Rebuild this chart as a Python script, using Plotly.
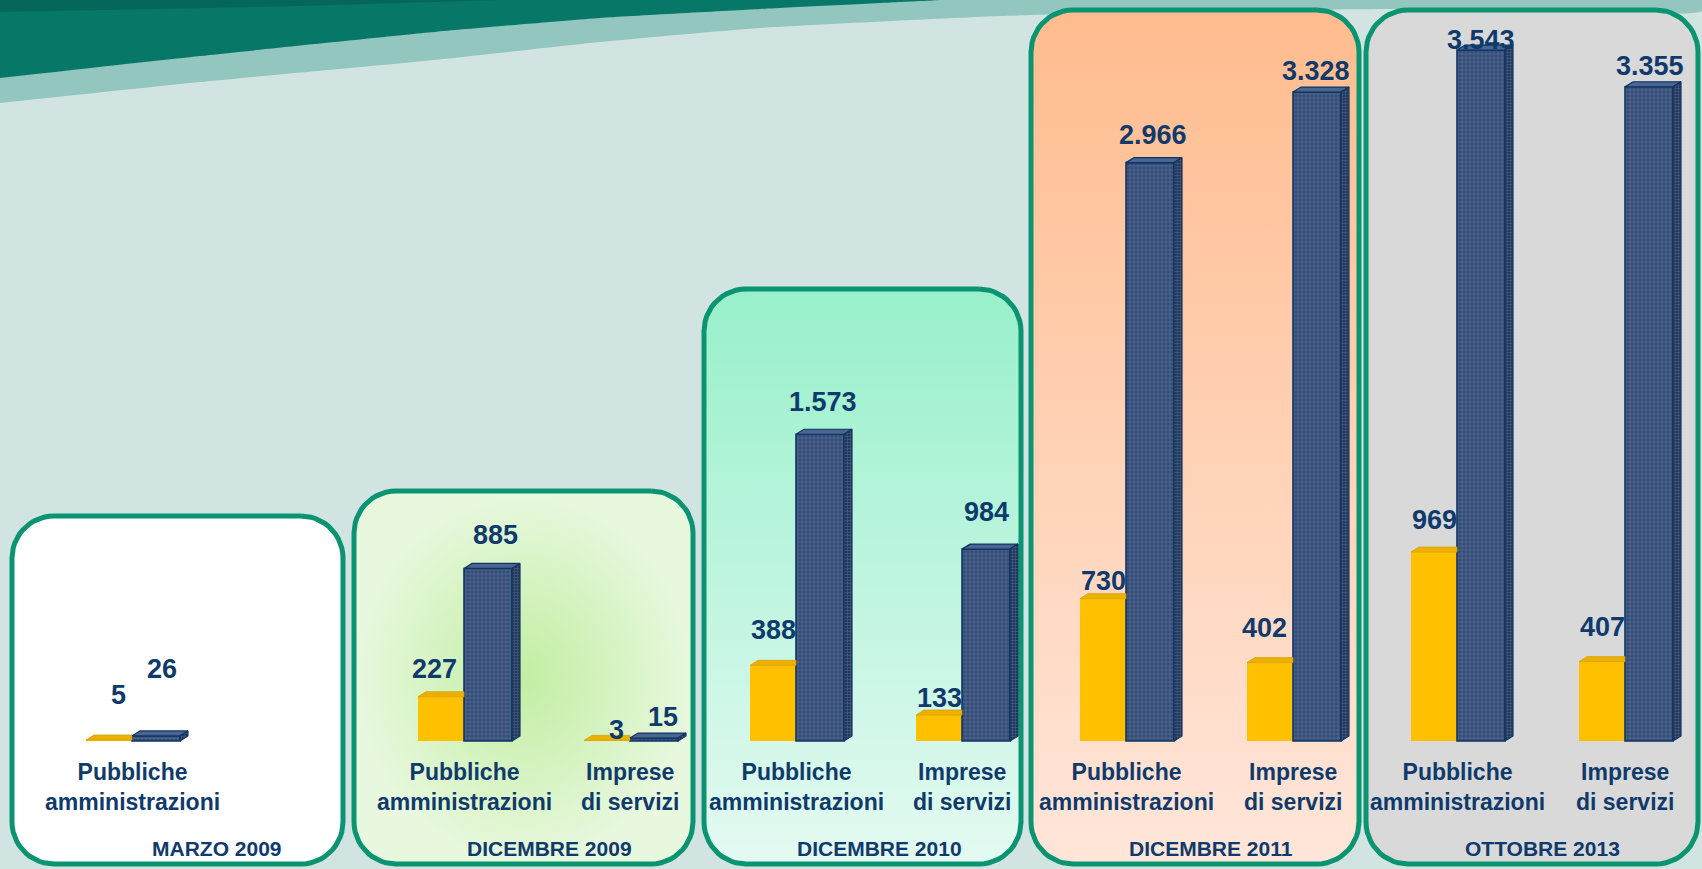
import plotly.graph_objects as go
import numpy as np

# ---------------- DATA ----------------
periods = ["MARZO 2009", "DICEMBRE 2009", "DICEMBRE 2010", "DICEMBRE 2011", "OTTOBRE 2013"]
categories = ["Pubbliche<br>amministrazioni", "Imprese<br>di servizi"]
group_period = [0, 1, 1, 2, 2, 3, 3, 4, 4]
group_category = [0, 0, 1, 0, 1, 0, 1, 0, 1]
yellow_values = [5, 227, 3, 388, 133, 730, 402, 969, 407]
navy_values = [26, 885, 15, 1573, 984, 2966, 3328, 3543, 3355]

# ---------------- LAYOUT CONSTANTS (pixels) ----------------
W, H = 1702, 869
BASE_PX = 741          # baseline from top
S = 0.195              # px per unit
group_x = [132, 464, 630, 796, 962, 1126, 1293, 1457, 1625]
YW, NW = 46, 48
DX, DY = 8, 5
DYU = DY / S
yellow_label_dy = [45, 28, 10, 35, 17, 18, 35, 32, 35]
yellow_label_dx = [9, -7, 9, 0, 0, 0, -6, 0, 0]
navy_label_dy = [67, 33, 21, 32, 37, 28, 21, 10, 21]
navy_label_dx = [6, 7, 9, 3, 0, 3, -1, 0, 1]
title_x = [217, 549, 879, 1211, 1542]
title_y = 848
cat_y = 787
panel_x0 = [12, 354, 704, 1031, 1366]
panel_x1 = [343, 693, 1021, 1359, 1698]
panel_y0 = [516, 491, 289, 10, 10]
panel_y1 = 864
RAD = 42

TEXT = "#0f3a6b"
FONT = "Liberation Sans, Arial, sans-serif"
BORDER = "#0a9471"
BG = "#d2e4e2"

def py(p):
    return H - p

def rrect(x0, x1, y0, y1, r, n=14):
    xs, ys = [], []
    corners = [(x1 - r, y0 + r, -90, 0), (x1 - r, y1 - r, 0, 90),
               (x0 + r, y1 - r, 90, 180), (x0 + r, y0 + r, 180, 270)]
    for cx, cy, a0, a1 in corners:
        for a in np.linspace(np.radians(a0), np.radians(a1), n):
            xs.append(cx + r * np.cos(a))
            ys.append(py(cy + r * np.sin(a)))
    xs.append(xs[0]); ys.append(ys[0])
    return xs, ys

fig = go.Figure()

# ---------------- background swoosh ----------------
light_top = [(0, 0), (1702, 0), (1702, 11), (1400, 9), (1200, 11), (1000, 16), (760, 28),
             (600, 42), (434, 60), (200, 82), (0, 103)]
fig.add_trace(go.Scatter(x=[p[0] for p in light_top], y=[py(p[1]) for p in light_top],
                         mode="lines", line=dict(width=0, shape="spline", smoothing=0.5),
                         fill="toself", fillcolor="#93c6bf", hoverinfo="skip"))
dark_top = [(0, 0), (940, 0), (900, 2), (760, 9), (600, 18), (434, 32), (200, 56), (0, 78)]
fig.add_trace(go.Scatter(x=[p[0] for p in dark_top], y=[py(p[1]) for p in dark_top],
                         mode="lines", line=dict(width=0, shape="spline", smoothing=0.5),
                         fill="toself", fillcolor="#077868", hoverinfo="skip"))
top_strip = [(0, 0), (500, 0), (300, 6), (0, 12)]
fig.add_trace(go.Scatter(x=[p[0] for p in top_strip], y=[py(p[1]) for p in top_strip],
                         mode="lines", line=dict(width=0), fill="toself",
                         fillcolor="#05665a", hoverinfo="skip"))

# ---------------- panels ----------------
panel_fill = [
    dict(kind="solid", color="#ffffff"),
    dict(kind="radial", c0="#c2eea2", c1="#e8f8de"),
    dict(kind="vertical", ctop="#98f0cb", cbot="#e4faf2"),
    dict(kind="vertical", ctop="#ffbc8e", cbot="#ffe6da"),
    dict(kind="solid", color="#d9d9d9"),
]
for i in range(5):
    xs, ys = rrect(panel_x0[i], panel_x1[i], panel_y0[i], panel_y1, RAD)
    pf = panel_fill[i]
    kw = dict(x=xs, y=ys, mode="lines", line=dict(color=BORDER, width=5),
              fill="toself", hoverinfo="skip")
    if pf["kind"] == "solid":
        kw["fillcolor"] = pf["color"]
    elif pf["kind"] == "radial":
        kw["fillgradient"] = dict(type="radial", colorscale=[[0, pf["c0"]], [1, pf["c1"]]])
    else:
        kw["fillgradient"] = dict(type="vertical",
                                  colorscale=[[0, pf["cbot"]], [1, pf["ctop"]]],
                                  start=py(panel_y1), stop=py(panel_y0[i]))
    fig.add_trace(go.Scatter(**kw))

# ---------------- bars ----------------
fig.add_trace(go.Bar(x=group_x, y=yellow_values, width=YW, offset=-YW,
                     marker=dict(color="#ffc000", line=dict(width=0)),
                     yaxis="y2", hoverinfo="skip"))
fig.add_trace(go.Bar(x=group_x, y=navy_values, width=NW, offset=0,
                     marker=dict(color="#344d76",
                                 pattern=dict(shape="+", fgcolor="#8094b4", size=4, solidity=0.3),
                                 line=dict(color="#0f3564", width=1.6)),
                     yaxis="y2", hoverinfo="skip"))

# 3D faces computed from values
for gx, yv, nv in zip(group_x, yellow_values, navy_values):
    x0 = gx - YW
    fig.add_trace(go.Scatter(x=[x0, x0 + DX, gx, gx, x0], y=[yv, yv + DYU, yv + DYU, yv, yv],
                             mode="lines", line=dict(color="#d9a000", width=0.8),
                             fill="toself", fillcolor="#ecb000", yaxis="y2", hoverinfo="skip"))
    x1 = gx + NW
    fig.add_trace(go.Scatter(x=[gx, gx + DX, x1 + DX, x1, gx], y=[nv, nv + DYU, nv + DYU, nv, nv],
                             mode="lines", line=dict(color="#0f3564", width=1.2),
                             fill="toself", fillcolor="#4a6590", yaxis="y2", hoverinfo="skip"))
    fig.add_trace(go.Scatter(x=[x1, x1 + DX, x1 + DX, x1, x1], y=[0, DYU, nv + DYU, nv, 0],
                             mode="lines", line=dict(color="#0f3564", width=1.2),
                             fill="toself", fillcolor="#23395b",
                             fillpattern=dict(shape="+", fgcolor="#6f84a6", bgcolor="#23395b",
                                              size=3, solidity=0.35),
                             yaxis="y2", hoverinfo="skip"))

# ---------------- annotations ----------------
ann = []
def fmt(v):
    return f"{v:,}".replace(",", ".")
for k, gx in enumerate(group_x):
    ann.append(dict(x=gx - YW / 2 + yellow_label_dx[k], y=yellow_values[k], xref="x", yref="y2",
                    yshift=yellow_label_dy[k], text=fmt(yellow_values[k]), showarrow=False,
                    xanchor="center", yanchor="middle",
                    font=dict(family=FONT, size=27, color=TEXT, weight="bold")))
    ann.append(dict(x=gx + NW / 2 + navy_label_dx[k], y=navy_values[k], xref="x", yref="y2",
                    yshift=navy_label_dy[k], text=fmt(navy_values[k]), showarrow=False,
                    xanchor="center", yanchor="middle",
                    font=dict(family=FONT, size=27, color=TEXT, weight="bold")))
    ann.append(dict(x=gx, y=py(cat_y), xref="x", yref="y", text=categories[group_category[k]],
                    showarrow=False, xanchor="center", yanchor="middle",
                    font=dict(family=FONT, size=23, color=TEXT, weight="bold")))
for i, t in enumerate(periods):
    ann.append(dict(x=title_x[i], y=py(title_y), xref="x", yref="y", text=t, showarrow=False,
                    xanchor="center", yanchor="middle",
                    font=dict(family=FONT, size=21, color=TEXT, weight="bold")))

fig.update_layout(
    width=W, height=H, margin=dict(l=0, r=0, t=0, b=0),
    paper_bgcolor=BG, plot_bgcolor=BG, showlegend=False, barmode="overlay",
    xaxis=dict(range=[0, W], visible=False, fixedrange=True),
    yaxis=dict(range=[0, H], visible=False, fixedrange=True),
    yaxis2=dict(range=[-(H - BASE_PX) / S, BASE_PX / S], overlaying="y", visible=False,
                fixedrange=True),
    annotations=ann,
)

fig.write_html("out.html", config={"displayModeBar": False})
